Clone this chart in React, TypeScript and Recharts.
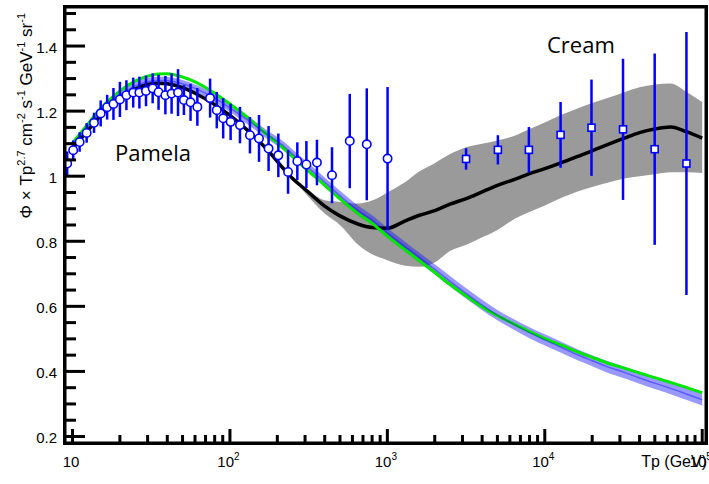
import React from 'react';
import {
  Area,
  ComposedChart,
  ErrorBar,
  Line,
  Scatter,
  XAxis,
  YAxis,
} from 'recharts';

// model curves, sampled on a common energy grid (GeV)
const modelE = [
  10, 12.5, 15, 20, 25, 30, 35, 40, 50, 60, 80, 100, 130, 170, 220, 250, 300, 400, 500, 650, 800,
  1000, 1300, 1600, 2000, 2500, 3200, 4000, 5000, 6500, 8000, 10000, 13000, 16000, 20000, 25000,
  32000, 40000, 50000, 63000, 80000, 100000,
];
const greenModel = [
  1.102, 1.16, 1.207, 1.262, 1.292, 1.307, 1.314, 1.315, 1.305, 1.29, 1.255, 1.222, 1.18, 1.13,
  1.085, 1.06, 1.025, 0.972, 0.93, 0.885, 0.855, 0.816, 0.773, 0.74, 0.704, 0.667, 0.63, 0.598,
  0.571, 0.544, 0.522, 0.501, 0.479, 0.461, 0.443, 0.426, 0.41, 0.395, 0.381, 0.366, 0.35, 0.334,
];
const blueModel = [
  1.095, 1.152, 1.197, 1.25, 1.277, 1.29, 1.294, 1.293, 1.284, 1.27, 1.24, 1.21, 1.172, 1.13,
  1.092, 1.068, 1.035, 0.982, 0.94, 0.895, 0.865, 0.826, 0.783, 0.75, 0.714, 0.677, 0.638, 0.604,
  0.573, 0.542, 0.519, 0.497, 0.472, 0.452, 0.433, 0.414, 0.397, 0.38, 0.364, 0.348, 0.33, 0.313,
];
const blueWidth = [
  0.01, 0.01, 0.011, 0.011, 0.012, 0.012, 0.012, 0.012, 0.012, 0.012, 0.013, 0.013, 0.013, 0.013,
  0.014, 0.014, 0.014, 0.014, 0.015, 0.015, 0.015, 0.015, 0.015, 0.015, 0.015, 0.016, 0.016, 0.016,
  0.016, 0.016, 0.017, 0.017, 0.017, 0.017, 0.017, 0.018, 0.018, 0.018, 0.018, 0.018, 0.018, 0.018,
];
const blackModel = [
  1.085, 1.14, 1.185, 1.24, 1.268, 1.282, 1.286, 1.284, 1.272, 1.255, 1.22, 1.187, 1.14, 1.085,
  1.022, 0.993, 0.96, 0.908, 0.878, 0.853, 0.842, 0.84, 0.863, 0.88, 0.894, 0.914, 0.932, 0.952,
  0.972, 0.991, 1.008, 1.023, 1.043, 1.06, 1.078, 1.097, 1.117, 1.134, 1.145, 1.151, 1.136, 1.117,
];
const grayLow = [
  null, null, null, null, null, null, null, null, null, null, null, null, null, null, null,
  0.993, 0.948, 0.885, 0.85, 0.79, 0.76, 0.742, 0.725, 0.722, 0.735, 0.77, 0.79, 0.812, 0.835,
  0.87, 0.89, 0.91, 0.935, 0.952, 0.967, 0.98, 0.993, 1.0, 1.006, 1.012, 1.012, 1.01,
];
const grayHigh = [
  null, null, null, null, null, null, null, null, null, null, null, null, null, null, null,
  0.993, 0.966, 0.926, 0.921, 0.916, 0.925, 0.95, 0.982, 1.015, 1.04, 1.068, 1.09, 1.1, 1.11,
  1.125, 1.145, 1.165, 1.19, 1.207, 1.225, 1.24, 1.258, 1.273, 1.282, 1.285, 1.258, 1.228,
];

// Pamela
const pamelaE = [
  9.25, 10.1, 11.1, 12.3, 13.7, 15.1, 16.6, 18.2, 20, 22, 24.3, 26.6, 29.3, 32.3, 35.2, 38.9, 42.6,
  46.8, 51, 56.2, 62.1, 74.8, 82.5, 90.6, 101, 115.8, 134, 153, 176, 203, 234, 268, 306, 357, 445,
  577, 740, 1003,
];
const pamelaFlux = [
  1.039, 1.08, 1.105, 1.133, 1.164, 1.193, 1.212, 1.222, 1.236, 1.249, 1.257, 1.257, 1.262, 1.27,
  1.258, 1.249, 1.254, 1.257, 1.234, 1.227, 1.213, 1.24, 1.203, 1.178, 1.167, 1.157, 1.126, 1.116,
  1.085, 1.064, 1.013, 1.046, 1.036, 1.042, 1.003, 1.108, 1.098, 1.054,
];
const pamelaErr = [
  0.037, 0.03, 0.03, 0.03, 0.031, 0.04, 0.038, 0.049, 0.054, 0.046, 0.046, 0.049, 0.047, 0.046,
  0.054, 0.059, 0.062, 0.072, 0.046, 0.057, 0.058, 0.06, 0.056, 0.062, 0.056, 0.056, 0.056, 0.072,
  0.069, 0.067, 0.067, 0.058, 0.072, 0.07, 0.086, 0.145, 0.172, 0.22,
];

// Cream
const creamE = [3162, 5036, 7925, 12600, 19800, 31400, 49900, 79400];
const creamFlux = [1.053, 1.081, 1.081, 1.127, 1.149, 1.144, 1.083, 1.039];
const creamErr = [0.033, 0.045, 0.07, 0.101, 0.148, 0.217, 0.294, 0.404];

const xTicks = [
  10, 20, 30, 40, 50, 60, 70, 80, 90, 100, 200, 300, 400, 500, 600, 700, 800, 900, 1000, 2000, 3000,
  4000, 5000, 6000, 7000, 8000, 9000, 10000, 20000, 30000, 40000, 50000, 60000, 70000, 80000,
  90000, 100000,
];
const xLabels = [10, 100, 1000, 10000, 100000];
const yTicks = [
  0.2, 0.25, 0.3, 0.35, 0.4, 0.45, 0.5, 0.55, 0.6, 0.65, 0.7, 0.75, 0.8, 0.85, 0.9, 0.95, 1, 1.05,
  1.1, 1.15, 1.2, 1.25, 1.3, 1.35, 1.4, 1.45, 1.5,
];
const yLabels = [0.2, 0.4, 0.6, 0.8, 1, 1.2, 1.4];

const xDomain = [8.96, 105700];
const yDomain = [0.18, 1.52];

const rows = modelE.map((E, i) => ({
  E,
  green: greenModel[i],
  blue: blueModel[i],
  blueBand: [blueModel[i] - blueWidth[i], blueModel[i] + blueWidth[i]],
  black: blackModel[i],
  gray: grayLow[i] == null ? null : [grayLow[i], grayHigh[i]],
}));
const pamelaRows = pamelaE.map((E, i) => ({ E, v: pamelaFlux[i], err: pamelaErr[i] }));
const creamRows = creamE.map((E, i) => ({ E, v: creamFlux[i], err: creamErr[i] }));

const FONT = '"Liberation Sans", Arial, Helvetica, sans-serif';
const BLUE = '#0000ff';

// ROOT style: ticks point into the frame (drawn as filled bars)
const YTick = (props: any) => {
  const { x, y, payload } = props;
  const major = yLabels.includes(payload.value);
  const len = major ? 20 : 11;
  return (
    <g>
      <rect x={x} y={y - 1.5} width={len} height={3} fill="#000" />
      {major && (
        <text x={x - 8} y={y + 1} textAnchor="end" dominantBaseline="central" fontSize={15} fontFamily={FONT} fill="#000">
          {String(payload.value)}
        </text>
      )}
    </g>
  );
};

const XTick = (props: any) => {
  const { x, y, payload } = props;
  const major = xLabels.includes(payload.value);
  const exp = Math.round(Math.log10(payload.value));
  const len = major ? 14 : 8;
  return (
    <g>
      <rect x={x - 1.5} y={y - len} width={3} height={len} fill="#000" />
      {major && (
        <text x={x - 1.5} y={y + 24} textAnchor="middle" fontSize={15} fontFamily={FONT} fill="#000">
          10
          {exp > 1 && (
            <tspan fontSize={10} dy={-7}>
              {exp}
            </tspan>
          )}
        </text>
      )}
    </g>
  );
};

const circle = (p: any) => (
  <circle cx={p.cx} cy={p.cy} r={4.2} fill="#fff" stroke={BLUE} strokeWidth={1.6} />
);
const square = (p: any) => (
  <rect x={p.cx - 3.5} y={p.cy - 3.5} width={7} height={7} fill="#fff" stroke={BLUE} strokeWidth={1.6} />
);
const none = () => <g />;

const sup = (t: string) => (
  <tspan fontSize={11} dy={-7}>
    {t}
  </tspan>
);

export default function App() {
  return (
    <div style={{ position: 'absolute', left: 0, top: 0, width: 709, height: 484, background: '#fff' }}>
      <ComposedChart width={709} height={484} data={rows} margin={{ top: 7, right: 3, bottom: 0, left: 0 }}>
        <XAxis
          dataKey="E"
          type="number"
          scale="log"
          domain={xDomain}
          allowDataOverflow
          ticks={xTicks}
          interval={0}
          tick={<XTick />}
          tickLine={false}
          axisLine={false}
          tickSize={0}
          tickMargin={0}
          height={41}
        />
        <YAxis
          type="number"
          domain={yDomain}
          allowDataOverflow
          ticks={yTicks}
          interval={0}
          tick={<YTick />}
          tickLine={false}
          axisLine={false}
          tickSize={0}
          tickMargin={0}
          width={65}
        />
        <Area dataKey="gray" type="monotone" stroke="none" fill="#9a9a9a" fillOpacity={1} isAnimationActive={false} />
        <Line dataKey="black" type="monotone" stroke="#000" strokeWidth={3.5} dot={false} activeDot={false} isAnimationActive={false} />
        <Line dataKey="green" type="monotone" stroke="#00e600" strokeWidth={3} dot={false} activeDot={false} isAnimationActive={false} />
        <Area dataKey="blueBand" type="monotone" stroke="none" fill="#1a1aff" fillOpacity={0.45} isAnimationActive={false} />
        <Line dataKey="blue" type="monotone" stroke="#0000ff" strokeOpacity={0.4} strokeWidth={1.5} dot={false} activeDot={false} isAnimationActive={false} />

        <Scatter data={pamelaRows} dataKey="v" shape={none} isAnimationActive={false}>
          <ErrorBar dataKey="err" direction="y" width={0} stroke={BLUE} strokeWidth={2.5} isAnimationActive={false} />
        </Scatter>
        <Scatter data={creamRows} dataKey="v" shape={none} isAnimationActive={false}>
          <ErrorBar dataKey="err" direction="y" width={0} stroke={BLUE} strokeWidth={2.5} isAnimationActive={false} />
        </Scatter>
        <Scatter data={pamelaRows} dataKey="v" shape={circle} isAnimationActive={false} />
        <Scatter data={creamRows} dataKey="v" shape={square} isAnimationActive={false} />
      </ComposedChart>

      <svg width={709} height={484} style={{ position: 'absolute', left: 0, top: 0, pointerEvents: 'none' }}>
        {/* frame of the plot area (65,7)-(706,443), as filled bars */}
        <rect x={63} y={5} width={645} height={3.5} fill="#000" />
        <rect x={63} y={441.5} width={645} height={3.5} fill="#000" />
        <rect x={63} y={5} width={3.5} height={440} fill="#000" />
        <rect x={704.5} y={5} width={3.5} height={440} fill="#000" />

        <text transform="translate(32,13) rotate(-90)" textAnchor="end" fontSize={17} fontFamily={FONT} fill="#000">
          {'Φ × Tp'}
          {sup('2.7')}
          <tspan dy={7}>{' cm'}</tspan>
          {sup('-2')}
          <tspan dy={7}>{' s'}</tspan>
          {sup('-1')}
          <tspan dy={7}>{' GeV'}</tspan>
          {sup('-1')}
          <tspan dy={7}>{' sr'}</tspan>
          {sup('-1')}
        </text>
        <text x={707} y={467} textAnchor="end" fontSize={16} fontFamily={FONT} fill="#000">
          Tp (GeV)
        </text>
        <text x={115} y={161} fontSize={22} fontFamily='"Open Sans", sans-serif' fill="#000">
          Pamela
        </text>
        <text x={547} y={53} fontSize={22} fontFamily='"Open Sans", sans-serif' fill="#000">
          Cream
        </text>
      </svg>
    </div>
  );
}
